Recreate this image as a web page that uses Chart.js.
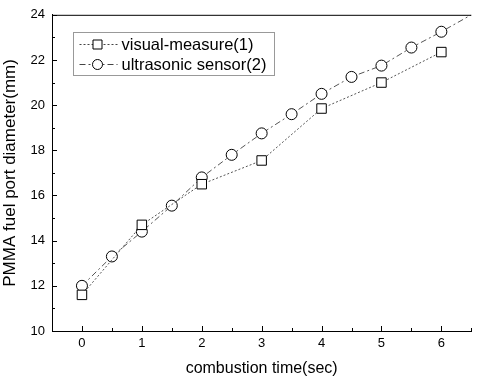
<!DOCTYPE html>
<html>
<head>
<meta charset="utf-8">
<script src="https://cdn.jsdelivr.net/npm/chart.js@4/dist/chart.umd.min.js"></script>
<style>
  html, body { margin: 0; padding: 0; background: #fff; }
  #wrap { width: 479px; height: 378px; }
</style>
</head>
<body>
<div id="wrap"><canvas id="chart" width="479" height="378"></canvas></div>
<script>
// data
const visualTime = [0, 1, 2, 3, 4, 5, 6];
const visualDiameter = [11.6, 14.7, 16.5, 17.55, 19.85, 21.0, 22.35];

const sensorTime = [0, 0.5, 1, 1.5, 2, 2.5, 3, 3.5, 4, 4.5, 5, 5.5, 6, 6.5];
const sensorDiameter = [12.0, 13.3, 14.4, 15.55, 16.8, 17.8, 18.75, 19.6, 20.5, 21.25, 21.75, 22.55, 23.25, 24.0];
const sensorMarked = [1, 1, 1, 1, 1, 1, 1, 1, 1, 1, 1, 1, 1, 0]; // last point is only the line running out

const xTicks = [0, 1, 2, 3, 4, 5, 6];
const yTicks = [10, 12, 14, 16, 18, 20, 22, 24];

const seriesLabels = ['visual-measure(1)', 'ultrasonic sensor(2)'];

const FONT = 'Arial, "Liberation Sans", sans-serif';

/* inward ticks + frame */
const frameTicks = {
  id: 'frameTicks',
  afterDraw(chart) {
    const { ctx, chartArea: a, scales: { x, y } } = chart;
    ctx.save();
    ctx.strokeStyle = '#000';
    ctx.lineWidth = 1;
    ctx.beginPath();
    ctx.moveTo(a.left, a.top + 0.5);
    ctx.lineTo(a.right, a.top + 0.5);
    ctx.stroke();
    ctx.beginPath();
    for (let v = y.min; v <= y.max; v += 1) {
      const py = Math.round(y.getPixelForValue(v)) + 0.5;
      const len = (v % 2 === 0) ? 5 : 3;
      ctx.moveTo(a.left, py);
      ctx.lineTo(a.left + len, py);
    }
    for (let v = x.min; v <= x.max + 1e-9; v += 0.5) {
      const px = Math.round(x.getPixelForValue(v)) + 0.5;
      const len = Number.isInteger(v) ? 5 : 3;
      ctx.moveTo(px, a.bottom);
      ctx.lineTo(px, a.bottom - len);
    }
    ctx.stroke();
    ctx.restore();
  }
};

/* legend box inside the plot */
const insideLegend = {
  id: 'insideLegend',
  afterDraw(chart) {
    const { ctx } = chart;
    const box = { x: 73.5, y: 32.5, w: 201, h: 43 };
    ctx.save();
    ctx.strokeStyle = '#333';
    ctx.setLineDash([1, 1]);
    ctx.lineWidth = 1;
    ctx.strokeRect(box.x, box.y, box.w, box.h);
    ctx.font = '16.5px ' + FONT;
    ctx.fillStyle = '#000';
    ctx.textBaseline = 'middle';
    chart.data.datasets.forEach((ds, i) => {
      const cy = box.y + 12 + i * 20;
      ctx.strokeStyle = '#444';
      ctx.setLineDash(ds.borderDash);
      ctx.beginPath();
      ctx.moveTo(box.x + 6, cy);
      ctx.lineTo(box.x + 44, cy);
      ctx.stroke();
      ctx.setLineDash([]);
      ctx.strokeStyle = '#000';
      ctx.fillStyle = '#fff';
      const cx = box.x + 24;
      ctx.beginPath();
      if (ds.pointStyle === 'rect') {
        ctx.rect(cx - 4.5, cy - 4.5, 9, 9);
      } else {
        ctx.arc(cx, cy, 5, 0, Math.PI * 2);
      }
      ctx.fill();
      ctx.stroke();
      ctx.fillStyle = '#000';
      ctx.fillText(ds.label, box.x + 48, cy + 1);
    });
    ctx.restore();
  }
};

new Chart(document.getElementById('chart'), {
  type: 'line',
  data: {
    datasets: [
      {
        label: seriesLabels[0],
        data: visualTime.map((t, i) => ({ x: t, y: visualDiameter[i] })),
        borderColor: '#555',
        borderWidth: 1,
        borderDash: [2, 2],
        pointStyle: 'rect',
        pointRadius: 6.7,
        pointBorderColor: '#000',
        pointBackgroundColor: '#fff',
        pointBorderWidth: 1,
        tension: 0
      },
      {
        label: seriesLabels[1],
        data: sensorTime.map((t, i) => ({ x: t, y: sensorDiameter[i] })),
        borderColor: '#555',
        borderWidth: 1,
        borderDash: [6, 3, 2, 3],
        pointStyle: 'circle',
        pointRadius: sensorMarked.map(m => m ? 5.5 : 0),
        pointBorderColor: '#000',
        pointBackgroundColor: '#fff',
        pointBorderWidth: 1,
        tension: 0
      }
    ]
  },
  options: {
    responsive: false,
    animation: false,
    layout: { padding: { top: 14, right: 0, left: 0, bottom: 0 } },
    plugins: { legend: { display: false }, tooltip: { enabled: false } },
    scales: {
      x: {
        type: 'linear',
        min: -0.5,
        max: 6.5,
        afterBuildTicks: (s) => { s.ticks = xTicks.map(v => ({ value: v })); },
        afterFit: (s) => { s.height = 47; },
        grid: { display: false, drawTicks: false },
        border: { display: true, color: '#000', width: 1 },
        ticks: { color: '#000', font: { family: FONT, size: 13 }, padding: 5, maxRotation: 0 },
        title: { display: true, text: 'combustion time(sec)', color: '#000', font: { family: FONT, size: 16 }, padding: { top: 4, bottom: 0 } }
      },
      y: {
        min: 10,
        max: 24,
        afterBuildTicks: (s) => { s.ticks = yTicks.map(v => ({ value: v })); },
        afterFit: (s) => { s.width = 52; },
        grid: { display: false, drawTicks: false },
        border: { display: true, color: '#000', width: 1 },
        ticks: { color: '#000', font: { family: FONT, size: 13 }, padding: 7 },
        title: { display: true, text: 'PMMA fuel port diameter(mm)', color: '#000', font: { family: FONT, size: 17 }, padding: { top: 0, bottom: 0 } }
      }
    }
  },
  plugins: [frameTicks, insideLegend]
});
</script>
</body>
</html>
